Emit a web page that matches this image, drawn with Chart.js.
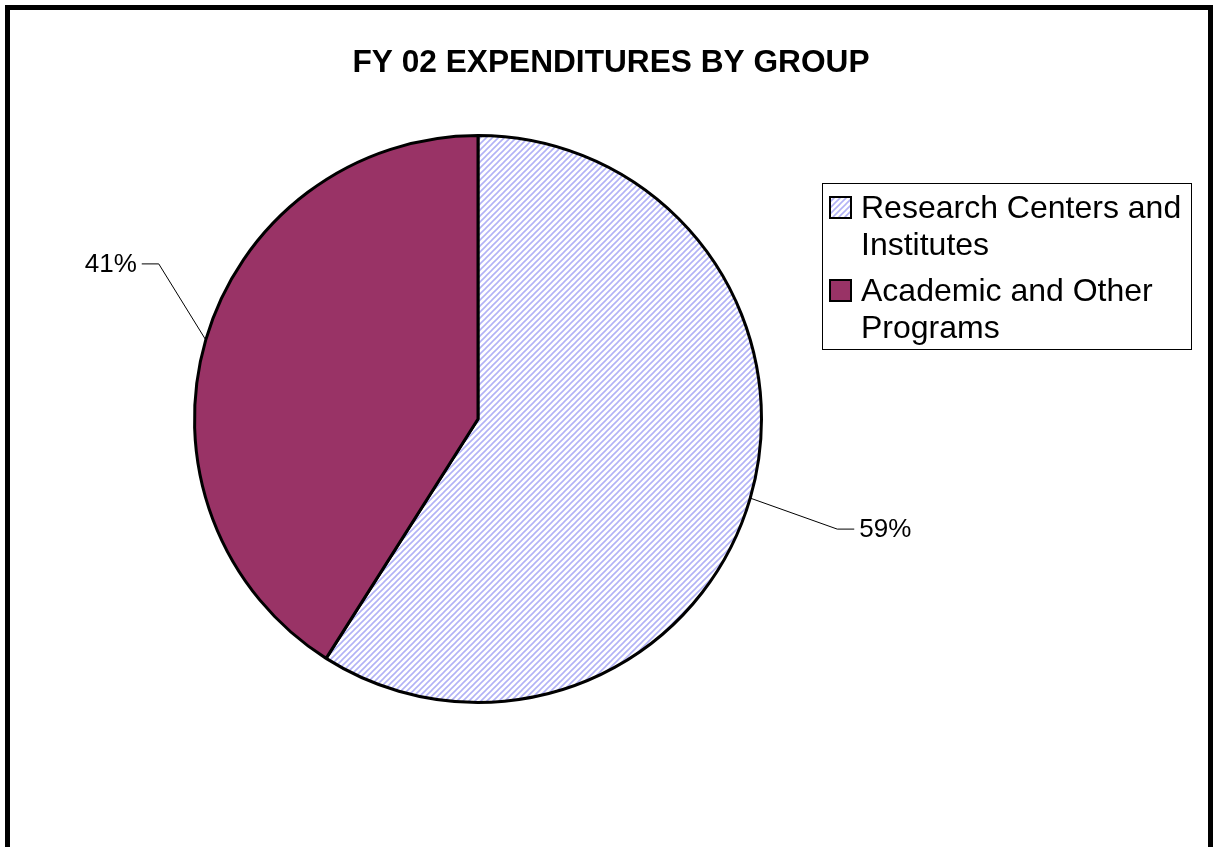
<!DOCTYPE html>
<html>
<head>
<meta charset="utf-8">
<script src="https://cdn.jsdelivr.net/npm/chart.js@4.4.1/dist/chart.umd.min.js"></script>
<style>
    html, body { margin: 0; padding: 0; background: #fff; }
    #frame {
        position: absolute; left: 5px; top: 5px;
        width: 1208px; height: 850px;
        box-sizing: border-box;
        border: 5px solid #000;
    }
    #wrap { position: absolute; left: 0; top: 0; width: 1214px; height: 847px; }
</style>
</head>
<body>
<div id="frame"></div>
<div id="wrap"><canvas id="pieChart" width="1214" height="847"></canvas></div>
<script>
// Dados do gráfico
const chartTitle = 'FY 02 EXPENDITURES BY GROUP';
const categories = ['Research Centers and Institutes', 'Academic and Other Programs'];
const shares = [59, 41];

// Padrão hachurado (diagonal) para a primeira fatia
function makeHatch() {
    const s = 6;
    const c = document.createElement('canvas');
    c.width = s; c.height = s;
    const g = c.getContext('2d');
    g.fillStyle = '#ffffff';
    g.fillRect(0, 0, s, s);
    g.strokeStyle = '#b2b2f6';
    g.lineWidth = 1.6;
    g.beginPath();
    g.moveTo(0, s); g.lineTo(s, 0);
    g.moveTo(-s / 2, s / 2); g.lineTo(s / 2, -s / 2);
    g.moveTo(s / 2, s + s / 2); g.lineTo(s + s / 2, s / 2);
    g.stroke();
    return g.createPattern(c, 'repeat');
}

const ctx = document.getElementById('pieChart').getContext('2d');
const hatch = makeHatch();
const sliceColors = [hatch, '#993366'];

// Título, legenda e rótulos com linhas de chamada
const decorPlugin = {
    id: 'decor',
    afterDraw(chart, args, opts) {
        const c = chart.ctx;
        c.save();

        // título
        c.font = 'bold 31px "Liberation Sans", Arial, sans-serif';
        c.fillStyle = '#000';
        c.textAlign = 'center';
        c.textBaseline = 'alphabetic';
        const tw = c.measureText(chartTitle).width;
        c.save();
        c.translate(opts.titleX, 72);
        c.scale(opts.titleWidth / tw, 1);
        c.fillText(chartTitle, 0, 0);
        c.restore();

        // rótulos de porcentagem
        const meta = chart.getDatasetMeta(0);
        c.font = '26px "Liberation Sans", Arial, sans-serif';
        c.strokeStyle = '#000';
        c.lineWidth = 1;
        meta.data.forEach((arc, i) => {
            const mid = (arc.startAngle + arc.endAngle) / 2;
            const px = arc.x + Math.cos(mid) * arc.outerRadius;
            const py = arc.y + Math.sin(mid) * arc.outerRadius;
            const off = opts.offsets[i];
            const ex = px + off[0], ey = py + off[1];
            const dir = off[0] >= 0 ? 1 : -1;
            const hx = ex + dir * 17;
            c.beginPath();
            c.moveTo(px, py);
            c.lineTo(ex, ey);
            c.lineTo(hx, ey);
            c.stroke();
            c.textAlign = dir > 0 ? 'left' : 'right';
            c.textBaseline = 'middle';
            c.fillText(shares[i] + '%', hx + dir * 5, ey + 1);
        });

        // legenda
        const L = opts.legend;
        c.strokeStyle = '#000';
        c.lineWidth = 1;
        c.strokeRect(L.x + 0.5, L.y + 0.5, L.w, L.h);
        c.font = '32px "Liberation Sans", Arial, sans-serif';
        c.textAlign = 'left';
        c.textBaseline = 'alphabetic';
        let y = L.y + 35;
        categories.forEach((name, i) => {
            // quebra de linha simples pela largura
            const words = name.split(' ');
            const lines = [];
            let line = '';
            words.forEach(w => {
                const test = line ? line + ' ' + w : w;
                if (c.measureText(test).width > L.textW && line) {
                    lines.push(line);
                    line = w;
                } else {
                    line = test;
                }
            });
            lines.push(line);

            c.fillStyle = sliceColors[i];
            c.fillRect(L.x + 8, y - 21, 21, 21);
            c.strokeStyle = '#000';
            c.lineWidth = 2;
            c.strokeRect(L.x + 8, y - 21, 21, 21);

            c.fillStyle = '#000';
            lines.forEach((ln, k) => {
                c.fillText(ln, L.x + 39, y + k * 37);
            });
            y += lines.length * 37 + 9;
        });

        c.restore();
    }
};

new Chart(ctx, {
    type: 'pie',
    data: {
        labels: categories,
        datasets: [{
            data: shares,
            backgroundColor: sliceColors,
            borderColor: '#000',
            borderWidth: 3
        }]
    },
    options: {
        responsive: false,
        animation: false,
        layout: { padding: { left: 193, right: 451, top: 134, bottom: 143 } },
        plugins: {
            legend: { display: false },
            title: { display: false },
            tooltip: { enabled: false },
            decor: {
                titleX: 611,
                titleWidth: 517,
                offsets: [[87, 31], [-47, -76]],
                legend: { x: 822, y: 183, w: 369, h: 166, textW: 345 }
            }
        }
    },
    plugins: [decorPlugin]
});
</script>
</body>
</html>
